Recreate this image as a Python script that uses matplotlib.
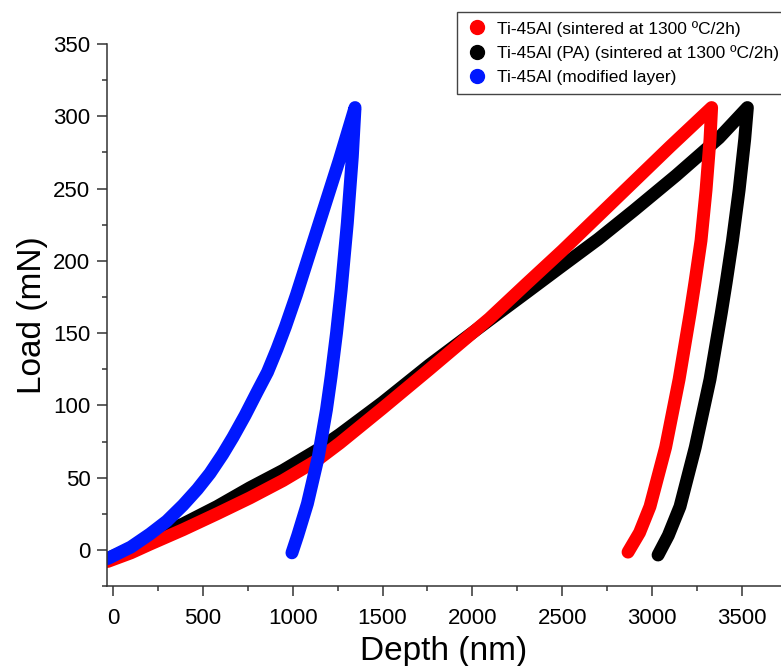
import matplotlib.pyplot as plt
from matplotlib.lines import Line2D
from matplotlib.ticker import MultipleLocator

plt.rcParams['font.family'] = ['Liberation Sans', 'DejaVu Sans']

# Ti-45Al (sintered at 1300 ºC/2h) - red
red_load_depth = [-30, 100, 206, 390, 579, 762, 946, 1135, 1263, 1500, 1761,
                  2094, 2300, 2500, 2700, 2900, 3100, 3331]
red_load_force = [-8, -2, 4, 14, 25, 36, 48, 62, 74, 98, 125,
                  160, 184, 207, 231, 255, 279, 306]
red_unload_depth = [3331, 3322, 3300, 3272, 3238, 3212, 3150, 3075, 2988, 2930, 2866]
red_unload_force = [306, 284, 249, 214, 185, 164, 118, 71, 30, 12, -1.5]

# Ti-45Al (PA) - black
blk_load_depth = [-30, 100, 206, 390, 579, 762, 946, 1135, 1263, 1500, 1761,
                  2094, 2300, 2483, 2700, 2900, 3133, 3372, 3530]
blk_load_force = [-6, 1, 8, 18, 30, 43, 55, 69, 80, 102, 128,
                  159, 178, 195, 215, 235, 259, 285, 306]
blk_unload_depth = [3530, 3515, 3484, 3447, 3412, 3385, 3322, 3240, 3155, 3090, 3033]
blk_unload_force = [306, 284, 249, 214, 185, 164, 118, 71, 30, 10, -3.5]

# Ti-45Al (modified layer) - blue
blu_load_depth = [-30, 100, 206, 300, 390, 470, 540, 610, 668, 735, 801,
                  860, 913, 960, 1021, 1140, 1259, 1347]
blu_load_force = [-6, 2, 11, 20, 31, 42, 53, 66, 78, 93, 109,
                  123, 139, 154.5, 176.5, 223, 269.5, 306]
blu_unload_depth = [1347, 1332, 1304, 1270, 1244, 1214, 1188, 1142, 1082, 1028, 996]
blu_unload_force = [306, 272, 226, 180, 150, 120, 97, 64, 32, 10, -2]

labels = ['Ti-45Al (sintered at 1300 ºC/2h)',
          'Ti-45Al (PA) (sintered at 1300 ºC/2h)',
          'Ti-45Al (modified layer)']
red = '#ff0000'
black = '#000000'
blue = '#0018ff'

fig = plt.figure(figsize=(7.81, 6.66), dpi=100)
ax = fig.add_axes([0.137, 0.120, 0.863, 0.814])

kw = dict(linewidth=9.3, solid_capstyle='round', solid_joinstyle='round')
ax.plot(blk_load_depth + blk_unload_depth[1:], blk_load_force + blk_unload_force[1:],
        color=black, **kw)
ax.plot(red_load_depth + red_unload_depth[1:], red_load_force + red_unload_force[1:],
        color=red, **kw)
ax.plot(blu_load_depth + blu_unload_depth[1:], blu_load_force + blu_unload_force[1:],
        color=blue, **kw)

ax.set_xlim(-33, 3717)
ax.set_ylim(-25, 350)
ax.xaxis.set_major_locator(MultipleLocator(500))
ax.xaxis.set_minor_locator(MultipleLocator(250))
ax.yaxis.set_major_locator(MultipleLocator(50))
ax.yaxis.set_minor_locator(MultipleLocator(25))

for s in ['top', 'right']:
    ax.spines[s].set_visible(False)
for s in ['left', 'bottom']:
    ax.spines[s].set_color('#333333')
    ax.spines[s].set_linewidth(1.1)

ax.tick_params(which='major', direction='out', length=7, width=1.1,
               color='#333333', labelsize=16)
ax.tick_params(which='minor', direction='out', length=3.6, width=1.1,
               color='#333333')
ax.tick_params(axis='x', which='major', pad=9)
ax.tick_params(axis='y', which='major', pad=5)

ax.set_xlabel('Depth (nm)', fontsize=24, labelpad=5)
ax.set_ylabel('Load (mN)', fontsize=24, labelpad=4)

handles = [Line2D([], [], linestyle='none', marker='o', markersize=10,
                  markerfacecolor=c, markeredgecolor=c)
           for c in (red, black, blue)]
leg = ax.legend(handles, labels, loc='upper right',
                bbox_to_anchor=(1.008, 0.982), bbox_transform=fig.transFigure,
                fontsize=12.5, frameon=True, fancybox=False, framealpha=1,
                edgecolor='#444444', borderpad=0.5, labelspacing=0.5,
                handletextpad=0.5, handlelength=1.3, borderaxespad=0)
leg.get_frame().set_linewidth(1.0)

fig.savefig('out.png', dpi=100)
